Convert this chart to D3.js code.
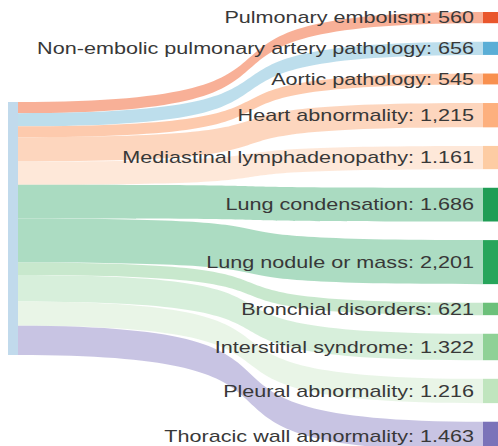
<!DOCTYPE html>
<html>
<head>
<meta charset="utf-8">
<script src="https://cdn.jsdelivr.net/npm/d3@7"></script>
<style>
  body { margin: 0; background: #fff; }
  svg { display: block; }
</style>
</head>
<body>
<svg id="sankey" width="498" height="446"></svg>
<script>
const svg = d3.select('#sankey');

// right-hand targets, top to bottom
const categories = [
  'Pulmonary embolism',
  'Non-embolic pulmonary artery pathology',
  'Aortic pathology',
  'Heart abnormality',
  'Mediastinal lymphadenopathy',
  'Lung condensation',
  'Lung nodule or mass',
  'Bronchial disorders',
  'Interstitial syndrome',
  'Pleural abnormality',
  'Thoracic wall abnormality'
];
const counts = [560, 656, 545, 1215, 1161, 1686, 2201, 621, 1322, 1216, 1463];
const countLabels = ['560', '656', '545', '1,215', '1.161', '1.686', '2,201', '621', '1.322', '1.216', '1.463'];

const nodeColors = ['#e9562c', '#5aaed6', '#f8904f', '#fdb07e', '#fdcca3', '#1f9d55', '#27a55b', '#6cc07a', '#8fd196', '#c0e5be', '#7b73b9'];
const linkColors = ['#f7a98e', '#b7dbea', '#fdc5a6', '#fdd3b8', '#fee6d6', '#a3d8bc', '#a5d9bd', '#c3e6c9', '#d4eed8', '#e7f4e5', '#c3bfe1'];
const sourceColor = '#c1daec';

const render = () => {
  const total = d3.sum(counts);

  const src = { x0: 8, x1: 18, y0: 102 };
  const tgtX0 = 483, tgtX1 = 499;
  const rightTop = 12, rightBottom = 451;

  // value -> pixel thickness
  const k = d3.scaleLinear().domain([0, total]).range([0, 253]);
  const gap = (rightBottom - rightTop - k(total)) / (counts.length - 1);

  let sy = src.y0, ty = rightTop;
  const nodes = counts.map((v, i) => {
    const h = k(v);
    const n = { i, v, sy0: sy, sy1: sy + h, ty0: ty, ty1: ty + h };
    sy += h;
    ty += h + gap;
    return n;
  });

  // control points pushed out -> flat ends, steep middle
  const curv = 0.78;
  const linkPath = d => {
    const x0 = src.x1, x1 = tgtX0, dx = x1 - x0;
    const c0 = x0 + curv * dx, c1 = x1 - curv * dx;
    const p = d3.path();
    p.moveTo(x0, d.sy0);
    p.bezierCurveTo(c0, d.sy0, c1, d.ty0, x1, d.ty0);
    p.lineTo(x1, d.ty1);
    p.bezierCurveTo(c1, d.ty1, c0, d.sy1, x0, d.sy1);
    p.closePath();
    return p.toString();
  };

  svg.append('g').selectAll('path').data(nodes)
    .enter().append('path')
    .attr('d', linkPath)
    .attr('fill', d => linkColors[d.i])
    .attr('fill-opacity', 0.92);

  svg.append('rect')
    .attr('x', src.x0).attr('y', src.y0)
    .attr('width', src.x1 - src.x0).attr('height', k(total))
    .attr('fill', sourceColor);

  svg.append('g').selectAll('rect').data(nodes)
    .enter().append('rect')
    .attr('x', tgtX0).attr('y', d => d.ty0)
    .attr('width', tgtX1 - tgtX0).attr('height', d => d.ty1 - d.ty0)
    .attr('fill', d => nodeColors[d.i]);

  svg.append('g').selectAll('text').data(nodes)
    .enter().append('text')
    .attr('transform', d => `translate(${tgtX0 - 9}, ${(d.ty0 + d.ty1) / 2}) scale(1.35, 1)`)
    .attr('text-anchor', 'end')
    .attr('dy', '0.36em')
    .attr('font-family', '"Liberation Sans", Arial, sans-serif')
    .attr('font-size', '16px')
    .attr('fill', '#383838')
    .text(d => `${categories[d.i]}: ${countLabels[d.i]}`);
};

render();
</script>
</body>
</html>
